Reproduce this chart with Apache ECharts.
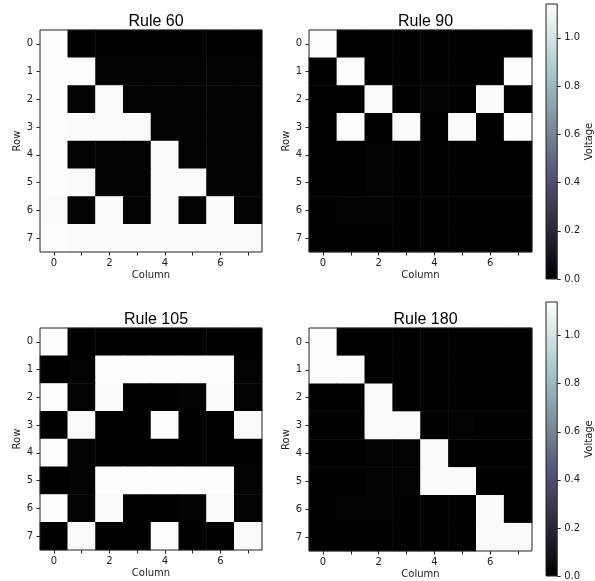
<!DOCTYPE html>
<html>
<head>
<meta charset="utf-8">
<script src="https://cdn.jsdelivr.net/npm/echarts@6/dist/echarts.min.js"></script>
<style>html,body{margin:0;padding:0;background:#fff;}#c{width:595px;height:581px;}</style>
</head>
<body>
<div id="c"></div>
<script>
// ---- data ----
const columns = ['0','1','2','3','4','5','6','7'];
const rows = ['0','1','2','3','4','5','6','7'];
const colorbarTicks = [0.0, 0.2, 0.4, 0.6, 0.8, 1.0];
const colorbarMax = 1.14;
const colorbarLabel = 'Voltage';
const titles = ['Rule 60', 'Rule 90', 'Rule 105', 'Rule 180'];

const rule60 = [
  [1.13,0.00,0.00,0.00,0.00,0.00,0.00,0.00],
  [1.13,1.13,0.01,0.01,0.01,0.01,0.01,0.01],
  [1.13,0.01,1.12,0.01,0.01,0.01,0.01,0.01],
  [1.13,1.12,1.12,1.12,0.01,0.01,0.01,0.01],
  [1.13,0.01,0.01,0.01,1.12,0.01,0.01,0.01],
  [1.13,1.12,0.01,0.01,1.12,1.12,0.01,0.01],
  [1.12,0.01,1.12,0.01,1.12,0.01,1.12,0.01],
  [1.13,1.12,1.12,1.12,1.12,1.12,1.12,1.12]
];
const rule90 = [
  [1.13,0.00,0.00,0.00,0.00,0.00,0.00,0.00],
  [0.00,1.13,0.00,0.00,0.00,0.00,0.00,1.13],
  [0.00,0.00,1.12,0.00,0.01,0.00,1.12,0.00],
  [0.00,1.13,0.00,1.12,0.00,1.12,0.00,1.13],
  [0.00,0.00,0.01,0.00,0.00,0.00,0.00,0.00],
  [0.00,0.00,0.01,0.00,0.00,0.00,0.00,0.00],
  [0.00,0.01,0.01,0.00,0.00,0.00,0.00,0.00],
  [0.00,0.00,0.00,0.00,0.00,0.00,0.00,0.00]
];
const rule105 = [
  [1.13,0.00,0.00,0.00,0.00,0.00,0.00,0.00],
  [0.00,0.01,1.13,1.13,1.13,1.13,1.13,0.01],
  [1.13,0.01,1.12,0.00,0.00,0.01,1.12,0.01],
  [0.00,1.12,0.00,0.00,1.13,0.00,0.00,1.12],
  [1.13,0.01,0.00,0.00,0.00,0.00,0.00,0.00],
  [0.00,0.01,1.13,1.13,1.13,1.13,1.13,0.01],
  [1.13,0.01,1.12,0.00,0.00,0.01,1.12,0.01],
  [0.00,1.12,0.00,0.00,1.13,0.00,0.00,1.12]
];
const rule180 = [
  [1.13,0.00,0.00,0.00,0.00,0.00,0.00,0.00],
  [1.13,1.13,0.00,0.00,0.00,0.00,0.00,0.00],
  [0.00,0.00,1.12,0.00,0.00,0.00,0.00,0.00],
  [0.00,0.00,1.12,1.12,0.00,0.01,0.00,0.00],
  [0.00,0.00,0.01,0.01,1.12,0.00,0.00,0.00],
  [0.00,0.00,0.01,0.01,1.12,1.12,0.00,0.00],
  [0.00,0.01,0.01,0.00,0.00,0.00,1.12,0.00],
  [0.00,0.00,0.00,0.00,0.00,0.00,1.12,1.12]
];
const grids2d = [rule60, rule90, rule105, rule180];

// ---- matplotlib "bone" colormap (segment data) ----
const boneSeg = {
  r: [[0,0],[0.746032,0.652778],[1,1]],
  g: [[0,0],[0.365079,0.319444],[0.746032,0.777778],[1,1]],
  b: [[0,0],[0.365079,0.444444],[1,1]]
};
function segInterp(seg, t) {
  for (let i = 1; i < seg.length; i++) {
    if (t <= seg[i][0]) {
      const [x0,y0] = seg[i-1], [x1,y1] = seg[i];
      return y0 + (y1 - y0) * (t - x0) / (x1 - x0);
    }
  }
  return seg[seg.length-1][1];
}
function bone(t) {
  const c = ['r','g','b'].map(k => Math.round(255 * segInterp(boneSeg[k], t)));
  return 'rgb(' + c.join(',') + ')';
}
const NSTOP = 41;
const boneColors = [];
const boneStops = [];
for (let i = 0; i < NSTOP; i++) {
  const t = i / (NSTOP - 1);
  boneColors.push(bone(t));
  boneStops.push({offset: 1 - t, color: bone(t)});
}

// ---- layout ----
const FONT = 'DejaVu Sans';
const TITLE_FONT = 'Liberation Sans';
const panels = [
  {left: 40, top: 30, width: 222, height: 222},
  {left: 309, top: 30, width: 223, height: 222},
  {left: 40, top: 328, width: 222, height: 222},
  {left: 309, top: 328, width: 223, height: 223}
];
const cbars = [
  {left: 546, top: 4, width: 13, height: 275},
  {left: 546, top: 302, width: 13, height: 275}
];

const grid = [], xAxis = [], yAxis = [], series = [], title = [];
panels.forEach((p, i) => {
  grid.push(Object.assign({show: true, borderColor: '#222', borderWidth: 1, z: 10, backgroundColor: 'transparent'}, p));
  xAxis.push({
    type: 'category', gridIndex: i, data: columns,
    name: 'Column', nameLocation: 'middle', nameGap: 18,
    nameTextStyle: {fontFamily: FONT, fontSize: 10, color: '#222'},
    axisLine: {show: false},
    axisTick: {show: true, alignWithLabel: true, interval: 0, length: 3.5, lineStyle: {color: '#222'}},
    axisLabel: {interval: 1, margin: 6, fontFamily: FONT, fontSize: 10, color: '#222'},
    splitLine: {show: false}
  });
  yAxis.push({
    type: 'category', gridIndex: i, data: rows, inverse: true,
    name: 'Row', nameLocation: 'middle', nameGap: 18, nameRotate: 90,
    nameTextStyle: {fontFamily: FONT, fontSize: 10, color: '#222'},
    axisLine: {show: false},
    axisTick: {show: true, alignWithLabel: true, interval: 0, length: 3.5, lineStyle: {color: '#222'}},
    axisLabel: {interval: 0, margin: 7, fontFamily: FONT, fontSize: 10, color: '#222'},
    splitLine: {show: false}
  });
  const data = [];
  grids2d[i].forEach((row, r) => row.forEach((v, c) => data.push([c, r, v])));
  series.push({type: 'heatmap', xAxisIndex: i, yAxisIndex: i, data: data, itemStyle: {borderWidth: 0}, emphasis: {disabled: true}, progressive: 0});
  title.push({
    text: titles[i], left: p.left + p.width / 2, top: p.top - 21, textAlign: 'center',
    textStyle: {fontFamily: TITLE_FONT, fontSize: 16, fontWeight: 'normal', color: '#000'}
  });
});

cbars.forEach((cb, j) => {
  const gi = panels.length + j;
  grid.push(Object.assign({show: true, borderColor: '#222', borderWidth: 1, z: 10, backgroundColor: 'transparent'}, cb));
  xAxis.push({type: 'category', gridIndex: gi, data: ['cb'], show: false, boundaryGap: true});
  yAxis.push({
    type: 'value', gridIndex: gi, min: 0, max: colorbarMax, interval: 0.2, position: 'right',
    name: colorbarLabel, nameLocation: 'middle', nameGap: 25, nameRotate: 90,
    nameTextStyle: {fontFamily: FONT, fontSize: 10, color: '#222'},
    axisLine: {show: false},
    axisTick: {show: true, length: 3.5, lineStyle: {color: '#222'}},
    axisLabel: {margin: 7, fontFamily: FONT, fontSize: 10, color: '#222', showMaxLabel: false,
      formatter: v => colorbarTicks.some(t => Math.abs(t - v) < 1e-6) ? v.toFixed(1) : ''},
    splitLine: {show: false}
  });
  series.push({
    type: 'bar', xAxisIndex: gi, yAxisIndex: gi, data: [colorbarMax], barWidth: '100%', silent: true,
    itemStyle: {color: {type: 'linear', x: 0, y: 0, x2: 0, y2: 1, colorStops: boneStops}}
  });
});

const chart = echarts.init(document.getElementById('c'), null, {renderer: 'canvas'});
chart.setOption({
  animation: false,
  backgroundColor: '#fff',
  title: title,
  grid: grid,
  xAxis: xAxis,
  yAxis: yAxis,
  visualMap: {
    show: false, type: 'continuous', min: 0, max: colorbarMax,
    seriesIndex: [0, 1, 2, 3], inRange: {color: boneColors}
  },
  series: series
});
</script>
</body>
</html>
